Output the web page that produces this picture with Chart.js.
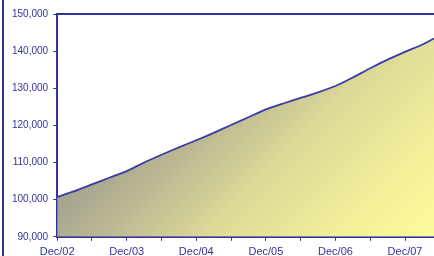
<!DOCTYPE html>
<html>
<head>
<meta charset="utf-8">
<script src="https://cdn.jsdelivr.net/npm/chart.js@4/dist/chart.umd.min.js"></script>
<style>
  html, body { margin: 0; padding: 0; background: #ffffff; overflow: hidden; width: 434px; height: 256px; }
  #wrap { position: relative; width: 434px; height: 264px; }
  #edge { position: absolute; left: 2px; top: 0; width: 2px; height: 264px; background: #333399; }
  canvas { display: block; }
</style>
</head>
<body>
<div id="wrap">
  <canvas id="c" width="434" height="264"></canvas>
  <div id="edge"></div>
</div>
<script>
// Months elapsed since Dec/02 for each point
const monthsFromDec02 = [0, 3, 6, 9, 12, 15, 18, 21, 24, 27, 30, 33, 36, 39, 42, 45, 48, 51, 54, 57, 60, 63, 65];
// Series values
const values = [100700, 102300, 104100, 105900, 107700, 110000, 112100, 114100, 116000, 118000, 120100, 122200,
                124300, 125900, 127400, 128900, 130600, 132900, 135400, 137700, 139800, 141800, 143400];
// X tick positions (months) and the labels shown on yearly ticks
const xTickMonths = [0, 6, 12, 18, 24, 30, 36, 42, 48, 54, 60];
const xTickLabels = ['Dec/02', 'Dec/03', 'Dec/04', 'Dec/05', 'Dec/06', 'Dec/07'];
// Y axis range
const yMin = 90000, yMax = 150000, yStep = 10000;

const navy = '#333399';
const points = monthsFromDec02.map((m, i) => ({ x: m, y: values[i] }));

function fillGradient(ctx) {
  const chart = ctx.chart;
  const a = chart.chartArea;
  if (!a) return '#dddd99';
  const size = Math.max(a.right - a.left, a.bottom - a.top);
  const g = chart.ctx.createLinearGradient(a.left, a.top, a.left + size, a.top + size);
  g.addColorStop(0.0, '#8e8e8e');
  g.addColorStop(0.22, '#9e9e8e');
  g.addColorStop(0.35, '#bab892');
  g.addColorStop(0.5, '#dedb98');
  g.addColorStop(0.7, '#f6f49a');
  g.addColorStop(0.85, '#ffff99');
  g.addColorStop(1.0, '#ffff99');
  return g;
}

new Chart(document.getElementById('c'), {
  type: 'line',
  data: {
    datasets: [{
      data: points,
      borderColor: '#3c3ca0',
      borderWidth: 1.8,
      backgroundColor: fillGradient,
      fill: 'start',
      pointRadius: 0,
      tension: 0.2
    }]
  },
  options: {
    responsive: false,
    animation: false,
    devicePixelRatio: 1,
    layout: { padding: { left: 7, top: 14, right: 0, bottom: 0 } },
    plugins: { legend: { display: false }, tooltip: { enabled: false } },
    scales: {
      x: {
        type: 'linear',
        position: 'bottom',
        min: monthsFromDec02[0],
        max: monthsFromDec02[monthsFromDec02.length - 1],
        afterBuildTicks: (scale) => { scale.ticks = xTickMonths.map(v => ({ value: v })); },
        ticks: {
          autoSkip: false,
          maxRotation: 0,
          padding: 5,
          color: navy,
          font: { family: '"Liberation Sans", Arial, sans-serif', size: 11 },
          callback: (v) => (v % 12 === 0 ? xTickLabels[v / 12] : '')
        },
        grid: { drawOnChartArea: false, drawTicks: true, tickLength: 4, color: navy, lineWidth: 1 },
        border: { display: true, color: navy, width: 2 }
      },
      x2: {
        type: 'linear',
        position: 'top',
        min: monthsFromDec02[0],
        max: monthsFromDec02[monthsFromDec02.length - 1],
        ticks: { display: false },
        grid: { drawOnChartArea: false, drawTicks: false },
        border: { display: true, color: navy, width: 2 }
      },
      y: {
        min: yMin,
        max: yMax,
        ticks: {
          stepSize: yStep,
          padding: 5,
          color: navy,
          font: { family: '"Liberation Sans", Arial, sans-serif', size: 10 },
          callback: (v) => v.toLocaleString('en-US')
        },
        grid: { drawOnChartArea: false, drawTicks: true, tickLength: 4, color: navy, lineWidth: 1 },
        border: { display: true, color: navy, width: 2 }
      }
    }
  }
});
</script>
</body>
</html>
